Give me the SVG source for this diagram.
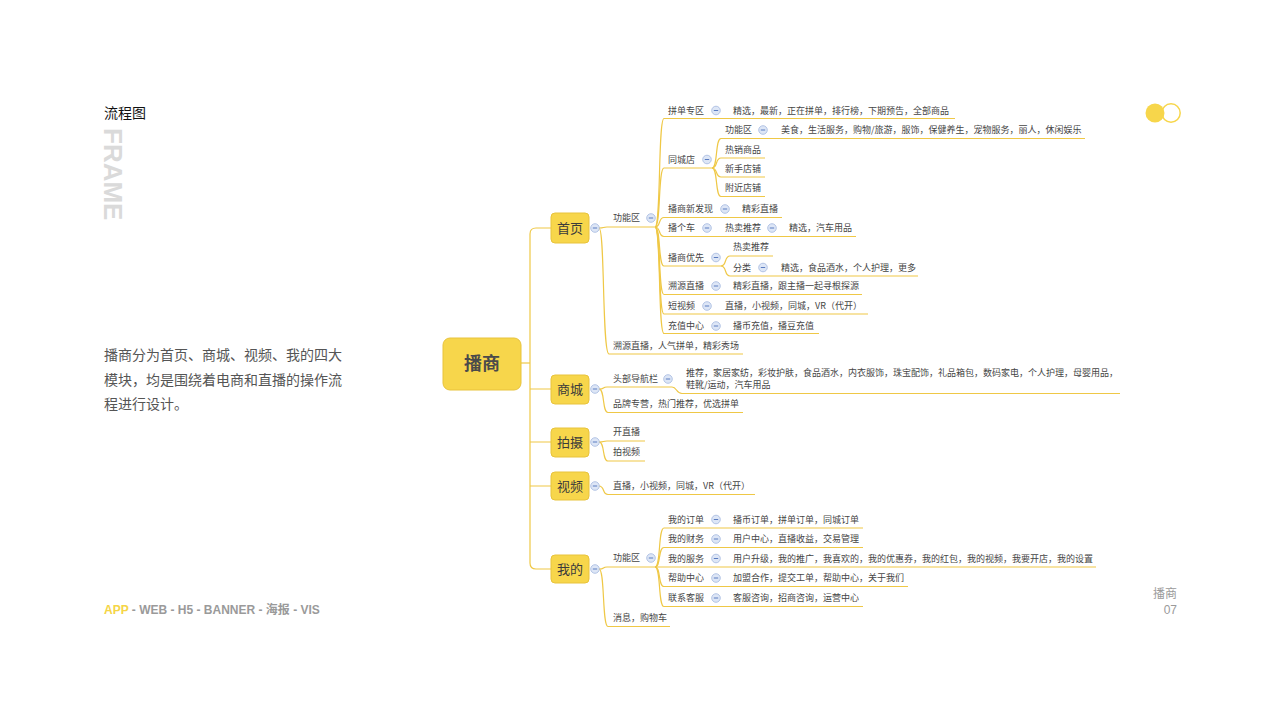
<svg xmlns="http://www.w3.org/2000/svg" width="1280" height="720" viewBox="0 0 1280 720">
<style>
.t{font-family:"Noto Sans CJK SC","Noto Sans",sans-serif;font-size:9px;fill:#454545}
.bx{fill:#f7d64b;stroke:#e8c33c;stroke-width:1}
.bt{font-family:"Noto Sans CJK SC",sans-serif;font-size:13px;fill:#3b3b3b;text-anchor:middle}
.c{fill:none;stroke:#efc846;stroke-width:1.2}
.g{font-family:"Liberation Sans","Noto Sans CJK SC",sans-serif;font-size:12px;fill:#9a9a9a}
</style>
<defs>
<g id="m"><circle r="4.3" fill="#dde6f6" stroke="#a3b8de" stroke-width="0.8"/><path d="M-2.2 0H2.2" stroke="#5b7cc0" stroke-width="1"/></g>
</defs>
<rect width="1280" height="720" fill="#fff"/>

<g id="header">
<text x="104" y="118" style="font-family:'Noto Sans CJK SC',sans-serif;font-size:14px;fill:#111">流程图</text>
<text transform="translate(104,128) rotate(90)" style="font-family:'Liberation Sans',sans-serif;font-size:26px;font-weight:bold;fill:#dadada">FRAME</text>
</g>
<g id="intro" style="font-family:'Noto Sans CJK SC',sans-serif;font-size:14px;fill:#555">
<text x="104" y="360">播商分为首页、商城、视频、我的四大</text>
<text x="104" y="385">模块，均是围绕着电商和直播的操作流</text>
<text x="104" y="409">程进行设计。</text>
</g>
<g id="footer">
<text x="104" y="614" class="g" style="font-weight:bold"><tspan fill="#f5d547">APP</tspan> - WEB - H5 - BANNER - 海报 - VIS</text>
<text x="1177" y="598" class="g" text-anchor="end">播商</text>
<text x="1177" y="614" class="g" text-anchor="end">07</text>
</g>
<g id="dots">
<circle cx="1155" cy="113" r="9.5" fill="#f7d64b"/>
<circle cx="1171" cy="113" r="9.2" fill="none" stroke="#f7d64b" stroke-width="1.5"/>
</g>

<g id="connectors">
<path class="c" d="M521 363H530"/>
<path class="c" d="M551 228H536Q530 228 530 234V563Q530 569 536 569H551"/>
<path class="c" d="M530 389H551M530 442H551M530 486H551"/>
<path class="c" d="M599 228C605 228 602 227 607 227H655"/>
<path class="c" d="M599 228C605 228 602 354 609 354H743"/>
<path class="c" d="M655 227C661 227 658 118.5 664 118.5H955"/>
<path class="c" d="M655 227C661 227 658 168 664 168H712"/>
<path class="c" d="M655 227C661 227 658 217.5 664 217.5H782"/>
<path class="c" d="M655 227C661 227 658 236.5 664 236.5H856"/>
<path class="c" d="M655 227C661 227 658 266 664 266H721"/>
<path class="c" d="M655 227C661 227 658 294.5 664 294.5H862"/>
<path class="c" d="M655 227C661 227 658 314 664 314H868"/>
<path class="c" d="M655 227C661 227 658 333.5 664 333.5H819"/>
<path class="c" d="M712 168C718 168 715 138.5 721 138.5H1085"/>
<path class="c" d="M712 168C718 168 715 158 721 158H765"/>
<path class="c" d="M712 168C718 168 715 177 721 177H765"/>
<path class="c" d="M712 168C718 168 715 196.5 721 196.5H765"/>
<path class="c" d="M721 266C727 266 724 256 730 256H773"/>
<path class="c" d="M721 266C727 266 724 276 730 276H918"/>
<path class="c" d="M599 389C605 389 602 387 607 387H672C677 387 676 393.5 682 393.5H1120"/>
<path class="c" d="M599 389C605 389 602 412.5 608 412.5H743"/>
<path class="c" d="M599 442C605 442 602 441 607 441H645"/>
<path class="c" d="M599 442C605 442 602 461 608 461H645"/>
<path class="c" d="M599 486C605 486 602 494.5 608 494.5H755"/>
<path class="c" d="M599 569C605 569 602 567 607 567H655"/>
<path class="c" d="M599 569C605 569 602 626.5 608 626.5H670"/>
<path class="c" d="M655 567C661 567 658 528 664 528H863"/>
<path class="c" d="M655 567C661 567 658 547.5 664 547.5H863"/>
<path class="c" d="M655 567C661 567 658 567 664 567H1096"/>
<path class="c" d="M655 567C661 567 658 586.5 664 586.5H908"/>
<path class="c" d="M655 567C661 567 658 606.5 664 606.5H863"/>
</g>

<g id="root"><rect class="bx" x="443" y="338" width="78" height="52" rx="7"/><text x="482" y="370" class="bt" style="font-size:18px;font-weight:bold;fill:#4a4a4a">播商</text></g>

<g id="shouye"><rect class="bx" x="551" y="213" width="38" height="30" rx="4"/><text x="570" y="232.5" class="bt">首页</text><use href="#m" x="595" y="228"/></g>
<g id="shangcheng"><rect class="bx" x="551" y="375" width="38" height="29" rx="4"/><text x="570" y="394" class="bt">商城</text><use href="#m" x="595" y="389"/></g>
<g id="paishe"><rect class="bx" x="551" y="428" width="38" height="29" rx="4"/><text x="570" y="447" class="bt">拍摄</text><use href="#m" x="595" y="442"/></g>
<g id="shipin"><rect class="bx" x="551" y="472" width="38" height="28" rx="4"/><text x="570" y="490.5" class="bt">视频</text><use href="#m" x="595" y="486"/></g>
<g id="wode"><rect class="bx" x="551" y="555" width="38" height="28" rx="4"/><text x="570" y="573.5" class="bt">我的</text><use href="#m" x="595" y="569"/></g>

<g id="sy-gongneng"><text class="t" x="613" y="221">功能区</text><use href="#m" x="651" y="218"/></g>
<g id="sy-pindan"><text class="t" x="668" y="113.5">拼单专区</text><use href="#m" x="716" y="110.5"/><text class="t" x="733" y="113.5">精选，最新，正在拼单，排行榜，下期预告，全部商品</text></g>
<g id="sy-tongcheng"><text class="t" x="668" y="162.5">同城店</text><use href="#m" x="707" y="159.5"/></g>
<g id="tc-gongneng"><text class="t" x="725" y="133">功能区</text><use href="#m" x="763" y="130"/><text class="t" x="781" y="133">美食，生活服务，购物/旅游，服饰，保健养生，宠物服务，丽人，休闲娱乐</text></g>
<g id="tc-rexiao"><text class="t" x="725" y="152.5">热销商品</text></g>
<g id="tc-xinshou"><text class="t" x="725" y="172">新手店铺</text></g>
<g id="tc-fujin"><text class="t" x="725" y="191">附近店铺</text></g>
<g id="sy-faxian"><text class="t" x="668" y="212">播商新发现</text><use href="#m" x="725" y="209"/><text class="t" x="742" y="212">精彩直播</text></g>
<g id="sy-bogeche"><text class="t" x="668" y="231">播个车</text><use href="#m" x="707" y="228"/><text class="t" x="725" y="231">热卖推荐</text><use href="#m" x="772" y="228"/><text class="t" x="789" y="231">精选，汽车用品</text></g>
<g id="sy-youxian"><text class="t" x="668" y="260.5">播商优先</text><use href="#m" x="716" y="257.5"/></g>
<g id="yx-remai"><text class="t" x="733" y="250">热卖推荐</text></g>
<g id="yx-fenlei"><text class="t" x="733" y="270.5">分类</text><use href="#m" x="763" y="267.5"/><text class="t" x="781" y="270.5">精选，食品酒水，个人护理，更多</text></g>
<g id="sy-suyuan"><text class="t" x="668" y="289">溯源直播</text><use href="#m" x="716" y="286"/><text class="t" x="733" y="289">精彩直播，跟主播一起寻根探源</text></g>
<g id="sy-duanshipin"><text class="t" x="668" y="309">短视频</text><use href="#m" x="707" y="306"/><text class="t" x="725" y="309">直播，小视频，同城，VR（代开）</text></g>
<g id="sy-chongzhi"><text class="t" x="668" y="329">充值中心</text><use href="#m" x="716" y="326"/><text class="t" x="733" y="329">播币充值，播豆充值</text></g>
<g id="sy-suyuan2"><text class="t" x="613" y="348.5">溯源直播，人气拼单，精彩秀场</text></g>

<g id="sc-daohang"><text class="t" x="613" y="382">头部导航栏</text><use href="#m" x="668" y="379"/><text class="t" x="686" y="376">推荐，家居家纺，彩妆护肤，食品酒水，内衣服饰，珠宝配饰，礼品箱包，数码家电，个人护理，母婴用品，</text><text class="t" x="686" y="388">鞋靴/运动，汽车用品</text></g>
<g id="sc-pinpai"><text class="t" x="613" y="407">品牌专营，热门推荐，优选拼单</text></g>

<g id="ps-zhibo"><text class="t" x="613" y="435">开直播</text></g>
<g id="ps-shipin"><text class="t" x="613" y="455">拍视频</text></g>

<g id="sp-zhibo"><text class="t" x="613" y="488.5">直播，小视频，同城，VR（代开）</text></g>

<g id="wd-gongneng"><text class="t" x="613" y="561">功能区</text><use href="#m" x="651" y="558"/></g>
<g id="wd-dingdan"><text class="t" x="668" y="522.5">我的订单</text><use href="#m" x="716" y="519.5"/><text class="t" x="733" y="522.5">播币订单，拼单订单，同城订单</text></g>
<g id="wd-caiwu"><text class="t" x="668" y="542">我的财务</text><use href="#m" x="716" y="539"/><text class="t" x="733" y="542">用户中心，直播收益，交易管理</text></g>
<g id="wd-fuwu"><text class="t" x="668" y="561.5">我的服务</text><use href="#m" x="716" y="558.5"/><text class="t" x="733" y="561.5">用户升级，我的推广，我喜欢的，我的优惠券，我的红包，我的视频，我要开店，我的设置</text></g>
<g id="wd-bangzhu"><text class="t" x="668" y="581">帮助中心</text><use href="#m" x="716" y="578"/><text class="t" x="733" y="581">加盟合作，提交工单，帮助中心，关于我们</text></g>
<g id="wd-kefu"><text class="t" x="668" y="601">联系客服</text><use href="#m" x="716" y="598"/><text class="t" x="733" y="601">客服咨询，招商咨询，运营中心</text></g>
<g id="wd-xiaoxi"><text class="t" x="613" y="621">消息，购物车</text></g>
</svg>
